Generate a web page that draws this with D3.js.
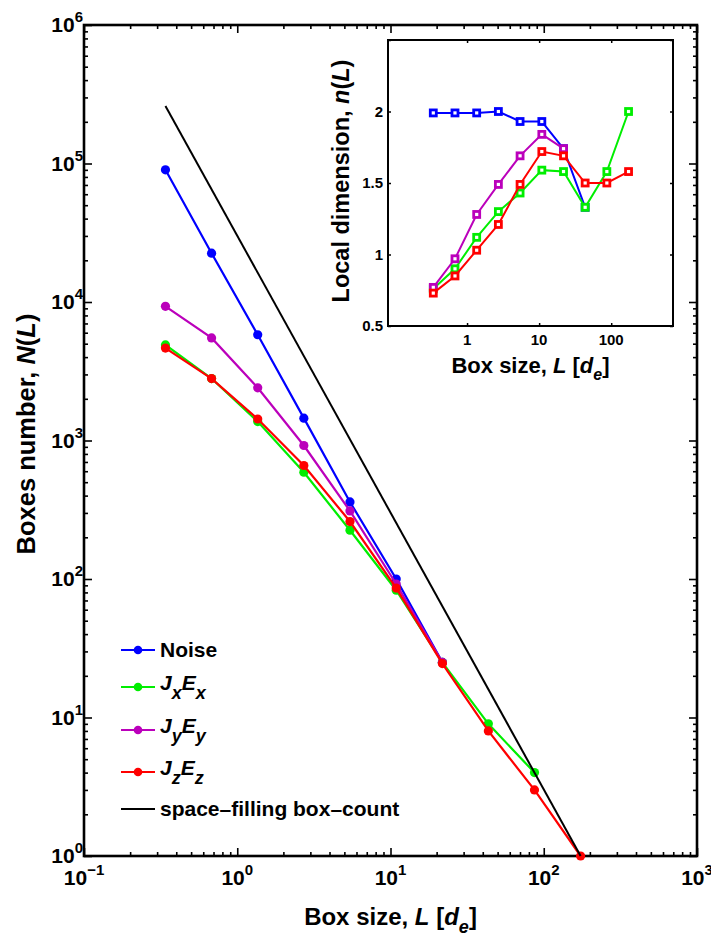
<!DOCTYPE html>
<html>
<head>
<meta charset="utf-8">
<script src="https://cdn.jsdelivr.net/npm/d3@7"></script>
<style>
  body { margin: 0; background: #fff; }
  svg text { font-family: "Liberation Sans", Arial, Helvetica, sans-serif; font-weight: bold; fill: #000; }
</style>
</head>
<body>
<div id="chart"></div>
<script>
// Box sizes (in d_e) shared by all series
var boxSize = [0.34, 0.68, 1.36, 2.72, 5.44, 10.9, 21.8, 43.5, 87, 174];

// Main panel: number of boxes N(L)
var noiseN = [9.0e4, 2.25e4, 5.8e3, 1.45e3, 360, 100, 25];
var jxexN = [4.9e3, 2.8e3, 1.37e3, 590, 225, 83, 25, 9, 4];
var jyeyN = [9.3e3, 5.5e3, 2.4e3, 920, 310, 92, 25];
var jzezN = [4.65e3, 2.8e3, 1.43e3, 660, 260, 86, 24.5, 8, 3, 1];

// space-filling box-count reference line
var spaceL = [0.34, 174];
var spaceN = [2.6e5, 1];

// Inset: local dimension n(L)
var noiseDim = [1.99, 1.99, 1.99, 2.0, 1.93, 1.93, 1.74, 1.33];
var jxexDim = [0.76, 0.90, 1.12, 1.30, 1.43, 1.59, 1.58, 1.33, 1.58, 2.0];
var jyeyDim = [0.77, 0.97, 1.28, 1.49, 1.69, 1.84, 1.74];
var jzezDim = [0.73, 0.85, 1.03, 1.21, 1.49, 1.72, 1.69, 1.50, 1.50, 1.58];

// Tick labels
var mainXExp = [-1, 0, 1, 2, 3];
var mainYExp = [0, 1, 2, 3, 4, 5, 6];
var insetXTicks = [1, 10, 100];
var insetYTicks = [0.5, 1, 1.5, 2];

var colors = { noise: "#0000ff", jx: "#00ee00", jy: "#bb00bb", jz: "#ff0000" };

var series = [
  { name: "noise", label: ["Noise"], color: colors.noise, n: noiseN, dim: noiseDim },
  { name: "jx", label: ["J", "x", "E", "x"], color: colors.jx, n: jxexN, dim: jxexDim },
  { name: "jy", label: ["J", "y", "E", "y"], color: colors.jy, n: jyeyN, dim: jyeyDim },
  { name: "jz", label: ["J", "z", "E", "z"], color: colors.jz, n: jzezN, dim: jzezDim }
];

var svgWidth = 711, svgHeight = 936;
var svg = d3.select("#chart").append("svg")
  .attr("width", svgWidth)
  .attr("height", svgHeight);

// Main plot area
var plot = { left: 84, right: 697, top: 25, bottom: 856 };

var x = d3.scaleLog().domain([0.1, 1000]).range([plot.left, plot.right]);
var y = d3.scaleLog().domain([1, 1e6]).range([plot.bottom, plot.top]);

function isMajor(v) {
  var l = Math.log10(v);
  return Math.abs(l - Math.round(l)) < 1e-9;
}

var xMajor = x.ticks().filter(isMajor);
var xMinor = x.ticks().filter(d => !isMajor(d));
var yMajor = y.ticks().filter(isMajor);
var yMinor = y.ticks().filter(d => !isMajor(d));

function addTicks(axisFn, scale, values, size, transform) {
  var g = svg.append("g")
    .attr("transform", transform)
    .call(axisFn(scale).tickValues(values).tickSizeInner(-size).tickSizeOuter(0).tickFormat(""));
  g.select(".domain").remove();
  g.selectAll(".tick line").attr("stroke", "#000").attr("stroke-width", 1.6);
}

addTicks(d3.axisBottom, x, xMajor, 8, `translate(0, ${plot.bottom})`);
addTicks(d3.axisBottom, x, xMinor, 4, `translate(0, ${plot.bottom})`);
addTicks(d3.axisTop, x, xMajor, 8, `translate(0, ${plot.top})`);
addTicks(d3.axisTop, x, xMinor, 4, `translate(0, ${plot.top})`);
addTicks(d3.axisLeft, y, yMajor, 8, `translate(${plot.left}, 0)`);
addTicks(d3.axisLeft, y, yMinor, 4, `translate(${plot.left}, 0)`);
addTicks(d3.axisRight, y, yMajor, 8, `translate(${plot.right}, 0)`);
addTicks(d3.axisRight, y, yMinor, 4, `translate(${plot.right}, 0)`);

// Axis box
svg.append("rect")
  .attr("x", plot.left).attr("y", plot.top)
  .attr("width", plot.right - plot.left).attr("height", plot.bottom - plot.top)
  .attr("fill", "none").attr("stroke", "#000").attr("stroke-width", 2.6);

// Tick labels with superscripts
var xLabels = svg.append("g").selectAll("text")
  .data(mainXExp)
  .enter().append("text")
  .attr("x", d => x(Math.pow(10, d)))
  .attr("y", plot.bottom + 29)
  .attr("text-anchor", "middle")
  .attr("font-size", 21);
xLabels.append("tspan").text("10");
xLabels.append("tspan").attr("dy", -10).attr("font-size", 15).text(d => d < 0 ? "\u2212" + (-d) : d);

var yLabels = svg.append("g").selectAll("text")
  .data(mainYExp)
  .enter().append("text")
  .attr("x", plot.left - 1)
  .attr("y", d => y(Math.pow(10, d)) + 7)
  .attr("text-anchor", "end")
  .attr("font-size", 21);
yLabels.append("tspan").text("10");
yLabels.append("tspan").attr("dy", -10).attr("font-size", 15).text(d => d);

// Axis titles
var xTitle = svg.append("text")
  .attr("x", (plot.left + plot.right) / 2)
  .attr("y", 925)
  .attr("text-anchor", "middle")
  .attr("font-size", 24);
xTitle.append("tspan").text("Box size, ");
xTitle.append("tspan").attr("font-style", "italic").text("L");
xTitle.append("tspan").text(" [");
xTitle.append("tspan").attr("font-style", "italic").text("d");
xTitle.append("tspan").attr("font-style", "italic").attr("font-size", 18).attr("dy", 8).text("e");
xTitle.append("tspan").attr("dy", -8).text("]");

var yTitle = svg.append("text")
  .attr("transform", "translate(35, 434) rotate(-90)")
  .attr("text-anchor", "middle")
  .attr("font-size", 25.5);
yTitle.append("tspan").text("Boxes number,  ");
yTitle.append("tspan").attr("font-style", "italic").text("N");
yTitle.append("tspan").text("(");
yTitle.append("tspan").attr("font-style", "italic").text("L");
yTitle.append("tspan").text(")");

// Series lines and markers
var mainLine = d3.line()
  .x(d => x(d[0]))
  .y(d => y(d[1]));

series.forEach(s => {
  var pts = s.n.map((v, i) => [boxSize[i], v]);
  svg.append("path")
    .datum(pts)
    .attr("d", mainLine)
    .attr("fill", "none")
    .attr("stroke", s.color)
    .attr("stroke-width", 2.2);
  svg.append("g").selectAll("circle")
    .data(pts)
    .enter().append("circle")
    .attr("cx", d => x(d[0]))
    .attr("cy", d => y(d[1]))
    .attr("r", 4.6)
    .attr("fill", s.color);
});

svg.append("path")
  .datum(spaceL.map((v, i) => [v, spaceN[i]]))
  .attr("d", mainLine)
  .attr("fill", "none")
  .attr("stroke", "#000")
  .attr("stroke-width", 2);

// Legend
var legendY = [650, 687, 730, 772, 809];
var legend = svg.append("g").attr("transform", "translate(121, 0)");
var legendRows = series.concat([{ name: "space", label: ["space\u2013filling box\u2013count"], color: "#000" }]);
legendRows.forEach((s, i) => {
  var row = legend.append("g").attr("transform", `translate(0, ${legendY[i]})`);
  row.append("line")
    .attr("x1", 0).attr("x2", 34).attr("y1", 0).attr("y2", 0)
    .attr("stroke", s.color).attr("stroke-width", 2.2);
  if (s.name !== "space") {
    row.append("circle").attr("cx", 17).attr("cy", 0).attr("r", 4.3).attr("fill", s.color);
  }
  var t = row.append("text").attr("x", 39).attr("font-size", 21);
  if (s.label.length === 1) {
    t.attr("y", 7).text(s.label[0]);
  } else {
    t.attr("y", 3);
    t.append("tspan").attr("font-style", "italic").text(s.label[0]);
    t.append("tspan").attr("font-style", "italic").attr("font-size", 18).attr("dy", 9).text(s.label[1]);
    t.append("tspan").attr("font-style", "italic").attr("dy", -9).text(s.label[2]);
    t.append("tspan").attr("font-style", "italic").attr("font-size", 18).attr("dy", 9).text(s.label[3]);
  }
});

// Inset: local dimension
var inset = { left: 388, right: 673, top: 40, bottom: 326 };
var ix = d3.scaleLog().domain([0.08, 720]).range([inset.left, inset.right]);
var iy = d3.scaleLinear().domain([0.5, 2.5]).range([inset.bottom, inset.top]);

svg.append("rect")
  .attr("x", inset.left).attr("y", inset.top)
  .attr("width", inset.right - inset.left).attr("height", inset.bottom - inset.top)
  .attr("fill", "#fff");

function addInsetTicks(axisFn, scale, values, transform) {
  var g = svg.append("g")
    .attr("transform", transform)
    .call(axisFn(scale).tickValues(values).tickSizeInner(-3).tickSizeOuter(0).tickFormat(""));
  g.select(".domain").remove();
  g.selectAll(".tick line").attr("stroke", "#000").attr("stroke-width", 1.5);
}
addInsetTicks(d3.axisBottom, ix, insetXTicks, `translate(0, ${inset.bottom})`);
addInsetTicks(d3.axisTop, ix, insetXTicks, `translate(0, ${inset.top})`);
addInsetTicks(d3.axisLeft, iy, insetYTicks.concat([2.5]), `translate(${inset.left}, 0)`);
addInsetTicks(d3.axisRight, iy, insetYTicks.concat([2.5]), `translate(${inset.right}, 0)`);

svg.append("g").selectAll("text")
  .data(insetXTicks)
  .enter().append("text")
  .attr("x", d => ix(d))
  .attr("y", inset.bottom + 19)
  .attr("text-anchor", "middle")
  .attr("font-size", 15)
  .text(d => d);

svg.append("g").selectAll("text")
  .data(insetYTicks)
  .enter().append("text")
  .attr("x", inset.left - 5)
  .attr("y", d => iy(d) + 5)
  .attr("text-anchor", "end")
  .attr("font-size", 15)
  .text(d => d);

var ixTitle = svg.append("text")
  .attr("x", (inset.left + inset.right) / 2)
  .attr("y", 373)
  .attr("text-anchor", "middle")
  .attr("font-size", 22);
ixTitle.append("tspan").text("Box size, ");
ixTitle.append("tspan").attr("font-style", "italic").text("L");
ixTitle.append("tspan").text(" [");
ixTitle.append("tspan").attr("font-style", "italic").text("d");
ixTitle.append("tspan").attr("font-style", "italic").attr("font-size", 16).attr("dy", 7).text("e");
ixTitle.append("tspan").attr("dy", -7).text("]");

var iyTitle = svg.append("text")
  .attr("transform", "translate(349, 181) rotate(-90)")
  .attr("text-anchor", "middle")
  .attr("font-size", 23.5);
iyTitle.append("tspan").text("Local dimension, ");
iyTitle.append("tspan").attr("font-style", "italic").text("n");
iyTitle.append("tspan").text("(");
iyTitle.append("tspan").attr("font-style", "italic").text("L");
iyTitle.append("tspan").text(")");

var insetLine = d3.line()
  .x(d => ix(d[0]))
  .y(d => iy(d[1]));

series.forEach(s => {
  var pts = s.dim.map((v, i) => [boxSize[i], v]);
  svg.append("path")
    .datum(pts)
    .attr("d", insetLine)
    .attr("fill", "none")
    .attr("stroke", s.color)
    .attr("stroke-width", 2);
  svg.append("g").selectAll("rect")
    .data(pts)
    .enter().append("rect")
    .attr("x", d => ix(d[0]) - 3)
    .attr("y", d => iy(d[1]) - 3)
    .attr("width", 6).attr("height", 6)
    .attr("fill", "#fff")
    .attr("stroke", s.color)
    .attr("stroke-width", 2.8);
});

svg.append("rect")
  .attr("x", inset.left).attr("y", inset.top)
  .attr("width", inset.right - inset.left).attr("height", inset.bottom - inset.top)
  .attr("fill", "none").attr("stroke", "#000").attr("stroke-width", 2);
</script>
</body>
</html>
